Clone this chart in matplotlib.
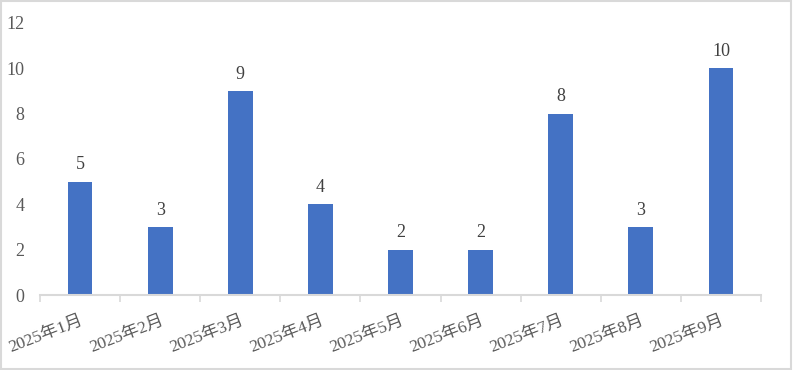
import matplotlib
matplotlib.use("Agg")
import matplotlib.pyplot as plt
from matplotlib.patches import Rectangle

categories = ["2025年1月", "2025年2月", "2025年3月", "2025年4月", "2025年5月",
              "2025年6月", "2025年7月", "2025年8月", "2025年9月"]
values = [5, 3, 9, 4, 2, 2, 8, 3, 10]
yticks = [0, 2, 4, 6, 8, 10, 12]

fam = ["Liberation Serif", "Noto Sans CJK SC", "DejaVu Sans"]
plt.rcParams["font.family"] = fam

fig = plt.figure(figsize=(7.93, 3.70), dpi=100)
ax = fig.add_axes([40/793, 75/370, 721/793, 272/370])

x = list(range(len(categories)))
ax.bar(x, values, width=0.31, color="#4472C4", zorder=2)

for xi, v in zip(x, values):
    ax.annotate(str(v), (xi, v), xytext=(0, 6), textcoords="offset points",
                ha="center", va="bottom", fontsize=13, color="#404040")

ax.set_xlim(-0.5, len(categories) - 0.5)
ax.set_ylim(0, 12)
ax.set_yticks(yticks)
ax.set_yticklabels([str(t) for t in yticks])
ax.tick_params(axis="y", length=0, pad=11, labelsize=13, labelcolor="#595959")

ax.set_xticks(x)
ax.set_xticklabels(categories, rotation=21, ha="right", va="top",
                   rotation_mode="anchor", fontsize=12.5, color="#595959")
ax.tick_params(axis="x", which="major", length=0, pad=13)
ax.set_xticks([i - 0.5 for i in range(len(categories) + 1)], minor=True)
ax.tick_params(axis="x", which="minor", length=5, width=1.2, color="#D9D9D9")

for s in ["top", "right", "left"]:
    ax.spines[s].set_visible(False)
ax.spines["bottom"].set_color("#D9D9D9")
ax.spines["bottom"].set_linewidth(1.5)

fig.patches.append(Rectangle((0.001, 0.002), 0.997, 0.995, transform=fig.transFigure,
                             fill=False, edgecolor="#D9D9D9", linewidth=1.5))

fig.savefig("out.png", dpi=100, facecolor="white")
